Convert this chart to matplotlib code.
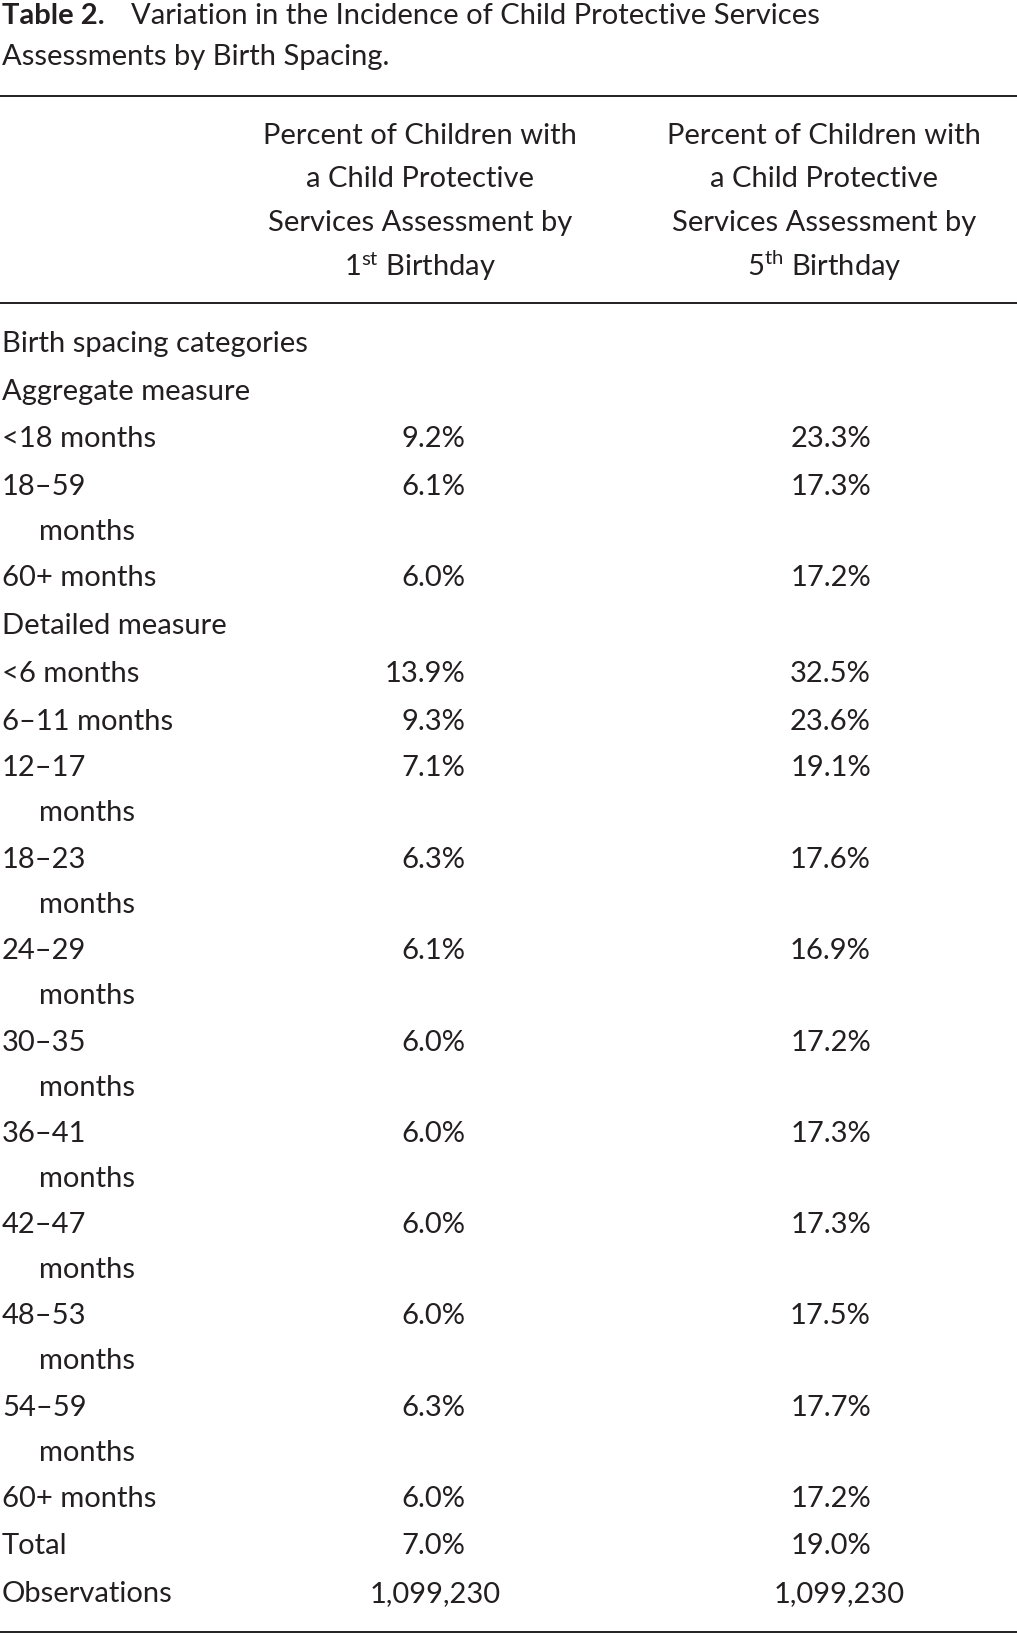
import matplotlib
matplotlib.use("Agg")
import matplotlib.pyplot as plt

FONT = "Lato"
plt.rcParams["font.family"] = FONT
plt.rcParams["mathtext.fontset"] = "custom"
plt.rcParams["mathtext.rm"] = FONT
plt.rcParams["mathtext.it"] = FONT

W, H = 975.0, 1568.0
FS = 21

title_bold = "Table 2."
title_rest = "Variation in the Incidence of Child Protective Services"
title_line2 = "Assessments by Birth Spacing."

header_1 = ["Percent of Children with", "a Child Protective", "Services Assessment by", r"1$^{\mathrm{st}}$ Birthday"]
header_2 = ["Percent of Children with", "a Child Protective", "Services Assessment by", r"5$^{\mathrm{th}}$ Birthday"]

# (label lines, first-birthday value, fifth-birthday value)
row_labels = [
    ["Birth spacing categories"], ["Aggregate measure"],
    ["<18 months"], ["18–59", "months"], ["60+ months"],
    ["Detailed measure"],
    ["<6 months"], ["6–11 months"], ["12–17", "months"], ["18–23", "months"],
    ["24–29", "months"], ["30–35", "months"], ["36–41", "months"],
    ["42–47", "months"], ["48–53", "months"], ["54–59", "months"],
    ["60+ months"], ["Total"], ["Observations"],
]
first_bday = ["", "", "9.2%", "6.1%", "6.0%", "", "13.9%", "9.3%", "7.1%", "6.3%",
              "6.1%", "6.0%", "6.0%", "6.0%", "6.0%", "6.3%", "6.0%", "7.0%", "1,099,230"]
fifth_bday = ["", "", "23.3%", "17.3%", "17.2%", "", "32.5%", "23.6%", "19.1%", "17.6%",
              "16.9%", "17.2%", "17.3%", "17.3%", "17.5%", "17.7%", "17.2%", "19.0%", "1,099,230"]
row_y = [330, 376, 421, 467, 554, 600, 646, 692, 737, 825, 912, 1000, 1088, 1175,
         1262, 1350, 1438, 1483, 1529]

fig = plt.figure(figsize=(10.17, 16.35), dpi=100, facecolor="white")


def put(x, y, s, **kw):
    kw.setdefault("fontsize", FS)
    kw.setdefault("va", "center")
    fig.text(x / W, 1 - y / H, s, color="#231f20", **kw)


def rule(y, lw=1.4):
    fig.add_artist(plt.Line2D([0, 1], [1 - y / H] * 2, color="#231f20", lw=lw))


put(2, 15, title_bold, fontweight="bold")
put(126, 15, title_rest)
put(2, 55, title_line2)
rule(92)
for i, (a, b) in enumerate(zip(header_1, header_2)):
    y = 130 + i * 41.7
    put(403, y, a, ha="center")
    put(790, y, b, ha="center")
rule(291)

for labels, v1, v2, y in zip(row_labels, first_bday, fifth_bday, row_y):
    put(2, y, labels[0])
    if len(labels) > 1:
        put(37, y + 43, labels[1])
    if labels[0] == "Observations":
        put(417, y, v1, ha="center")
        put(805, y, v2, ha="center")
    else:
        put(446, y, v1, ha="right")
        put(835, y, v2, ha="right")
rule(1565)

fig.savefig("out.png", facecolor="white")
